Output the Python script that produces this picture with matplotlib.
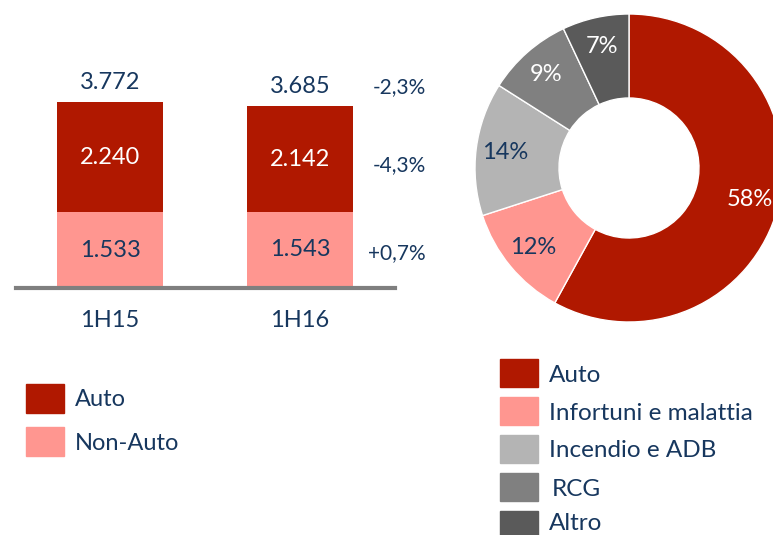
import matplotlib
matplotlib.use("Agg")
import matplotlib.pyplot as plt
from matplotlib.patches import Rectangle

plt.rcParams['font.family'] = ['Lato', 'DejaVu Sans']

# ---- data ----
periods = ["1H15", "1H16"]
auto_vals = [2240, 2142]
nonauto_vals = [1533, 1543]
totals = [3772, 3685]
changes = ["-2,3%", "-4,3%", "+0,7%"]   # total, auto, non-auto

mix_labels = ["Auto", "Infortuni e malattia", "Incendio e ADB", "RCG", "Altro"]
mix_values = [58, 12, 14, 9, 7]

# ---- style ----
NAVY = "#17375E"
C_AUTO = "#B01800"
C_NON = "#FF9690"
mix_colors = [C_AUTO, C_NON, "#B4B4B4", "#808080", "#5A5A5A"]
mix_txt = ["white", NAVY, NAVY, "white", "white"]
FS = 17

W, H = 773, 535
fig = plt.figure(figsize=(W / 100, H / 100), dpi=100)

def px_axes(left, top, width, height):
    return fig.add_axes([left / W, (H - top - height) / H, width / W, height / H])

# ---- bar chart ----
scale = 186 / 3772.0  # px per unit
ax_h = 246.0
ax = px_axes(16, 288 - ax_h, 379, ax_h)
x = [0, 1]
bw = 106 / 190.0
ax.bar(x, nonauto_vals, width=bw, color=C_NON, zorder=2)
ax.bar(x, auto_vals, width=bw, bottom=nonauto_vals, color=C_AUTO, zorder=2)
ax.set_xlim(-94 / 190.0, 285 / 190.0)
ax.set_ylim(0, ax_h / scale)
for s in ["top", "left", "right"]:
    ax.spines[s].set_visible(False)
ax.spines["bottom"].set_color("#7F7F7F")
ax.spines["bottom"].set_linewidth(3.0)
ax.spines["bottom"].set_zorder(3)
ax.set_yticks([])
ax.set_xticks(x)
ax.set_xticklabels(periods, fontsize=FS, color=NAVY)
ax.tick_params(axis="x", length=0, pad=16)

for i in x:
    ax.annotate(f"{totals[i]:,}".replace(",", "."), (i, totals[i]), xytext=(0, 14),
                textcoords="offset points", ha="center", va="center",
                fontsize=FS, color=NAVY)
    ax.text(i, nonauto_vals[i] + auto_vals[i] / 2, f"{auto_vals[i]:,}".replace(",", "."),
            ha="center", va="center", fontsize=FS, color="white")
    ax.text(i, nonauto_vals[i] / 2, f"{nonauto_vals[i]:,}".replace(",", "."),
            ha="center", va="center", fontsize=FS, color=NAVY)

xr = 1.0 + 126 / 190.0
FP = 15
ax.annotate(changes[0], (xr, totals[1]), xytext=(0, 14), textcoords="offset points",
            ha="right", va="center", fontsize=FP, color=NAVY, annotation_clip=False)
ax.annotate(changes[1], (xr, nonauto_vals[1] + auto_vals[1] / 2), xytext=(0, -4),
            textcoords="offset points", ha="right", va="center", fontsize=FP,
            color=NAVY, annotation_clip=False)
ax.annotate(changes[2], (xr, nonauto_vals[1] / 2), xytext=(0, -2),
            textcoords="offset points", ha="right", va="center", fontsize=FP,
            color=NAVY, annotation_clip=False)

# left legend
for (lab, col, cy) in [("Auto", C_AUTO, 398), ("Non-Auto", C_NON, 441)]:
    fig.add_artist(Rectangle((26 / W, (H - cy - 14.5) / H), 38 / W, 29 / H,
                             transform=fig.transFigure, color=col))
    fig.text(75 / W, (H - cy - 2) / H, lab, ha="left", va="center", fontsize=FS, color=NAVY)

# ---- donut ----
R = 154
cx, cy = 629, 168
ax2 = px_axes(cx - R, cy - R, 2 * R, 2 * R)
wedges, texts, autotexts = ax2.pie(
    mix_values, colors=mix_colors, startangle=90, counterclock=False, radius=1,
    autopct=lambda p: f"{p:.0f}%", pctdistance=0.81,
    wedgeprops=dict(width=1 - 70 / 154.0, edgecolor="white", linewidth=1))
for t, c in zip(autotexts, mix_txt):
    t.set_color(c)
    t.set_fontsize(FS)
ax2.set_xlim(-1, 1)
ax2.set_ylim(-1, 1)
ax2.set_aspect("equal")
ax2.axis("off")

# right legend
rows = [373, 411, 448.5, 487, 525]
FL = 17.5
for lab, col, ry in zip(mix_labels, mix_colors, rows):
    fig.add_artist(Rectangle((500 / W, (H - ry - 14) / H), 38 / W, 28 / H,
                             transform=fig.transFigure, color=col))
    xt = 552 if lab == "RCG" else 549
    ty = min(ry + 2, 523)
    fig.text(xt / W, (H - ty) / H, lab, ha="left", va="center", fontsize=FL, color=NAVY)

fig.savefig("out.png", dpi=100)
